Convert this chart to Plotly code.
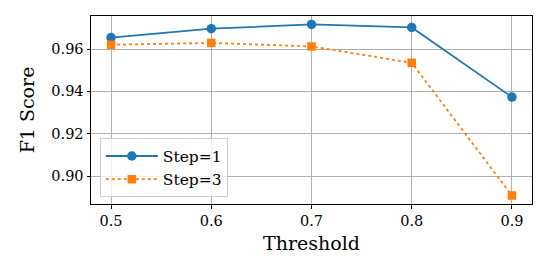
import plotly.graph_objects as go

thresholds = [0.5, 0.6, 0.7, 0.8, 0.9]
step1 = [0.9654, 0.9696, 0.9716, 0.9702, 0.9373]
step3 = [0.9620, 0.9629, 0.9612, 0.9535, 0.8908]
x_ticks = [0.5, 0.6, 0.7, 0.8, 0.9]
y_ticks = [0.90, 0.92, 0.94, 0.96]

font = "DejaVu Serif, serif"
fig = go.Figure()
fig.add_trace(go.Scatter(x=thresholds, y=step1, name="Step=1", mode="lines+markers",
                         line=dict(color="#1f77b4", width=1.8),
                         marker=dict(symbol="circle", size=9.5, color="#1f77b4")))
fig.add_trace(go.Scatter(x=thresholds, y=step3, name="Step=3", mode="lines+markers",
                         line=dict(color="#ff7f0e", width=1.8, dash="dot"),
                         marker=dict(symbol="square", size=8.5, color="#ff7f0e")))

axis_common = dict(showline=True, linecolor="black", linewidth=1, mirror=True,
                   showgrid=True, gridcolor="#b0b0b0", gridwidth=1,
                   ticks="outside", ticklen=3.5, tickcolor="black",
                   tickfont=dict(family=font, size=14.5, color="black"), zeroline=False)

fig.update_layout(
    width=553, height=262,
    margin=dict(l=91, r=21, t=16, b=54),
    plot_bgcolor="white", paper_bgcolor="white",
    font=dict(family=font, color="black"),
    xaxis=dict(range=[0.48, 0.92], tickvals=x_ticks, ticktext=[f"{v:.1f}" for v in x_ticks],
               title=dict(text="Threshold", font=dict(family=font, size=19), standoff=8),
               **axis_common),
    yaxis=dict(range=[0.8868, 0.9756], tickvals=y_ticks, ticktext=[f"{v:.2f}" for v in y_ticks],
               title=dict(text="F1 Score", font=dict(family=font, size=19), standoff=11),
               **axis_common),
    legend=dict(x=0.02, y=0.035, xanchor="left", yanchor="bottom",
                bgcolor="rgba(255,255,255,0.8)", bordercolor="#cccccc", borderwidth=1,
                font=dict(family=font, size=15.5), tracegroupgap=0, itemwidth=52),
    showlegend=True,
)

fig.write_html("out.html", config={"displayModeBar": False},
               post_script="document.body.style.margin='0';")
